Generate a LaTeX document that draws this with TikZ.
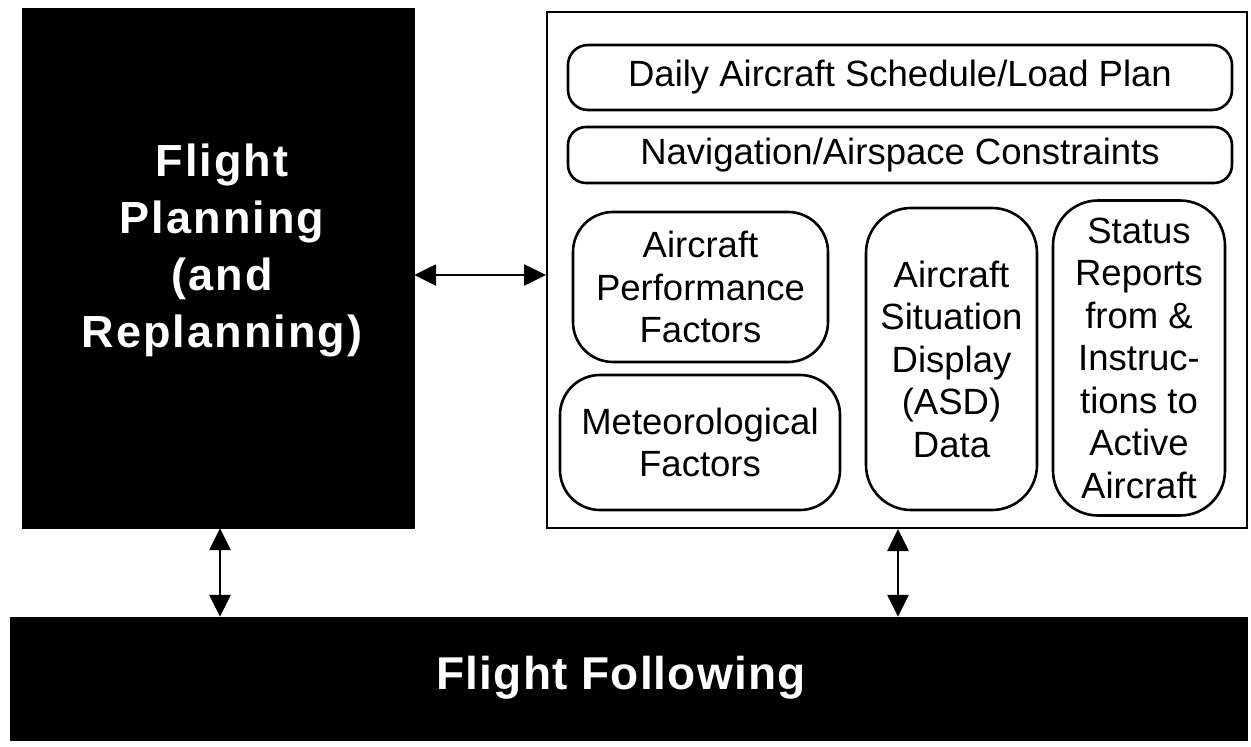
\documentclass[tikz,border=0pt]{standalone}
\usepackage{fontspec}
\setmainfont{Liberation Sans}
\newfontfamily\fpfont[LetterSpace=4.5]{Liberation Sans}
\newfontfamily\fffont[LetterSpace=2.5]{Liberation Sans}
\usetikzlibrary{arrows.meta}
\begin{document}
\begin{tikzpicture}[x=1pt,y=-1pt,
  blackbox/.style={draw=black,fill=black,inner sep=0pt},
  whitetext/.style={text=white,align=center,inner sep=0pt},
  outerbox/.style={draw=black,line width=2pt,inner sep=0pt},
  item/.style={draw=black,line width=2.6pt,inner sep=0pt,align=center,font=\fontsize{36.5}{42.5}\selectfont},
  link/.style={line width=2.6pt,{Triangle[length=22pt,width=21pt]}-{Triangle[length=22pt,width=21pt]}}
]
\useasboundingbox (0,0) rectangle (1251,747);
\node[blackbox,minimum width=392pt,minimum height=520pt] (FP) at (218,268) {};
\node[whitetext,font=\fpfont\fontsize{45}{57}\selectfont\bfseries] (FPt) at (222,250) {Flight\\Planning\\(and\\Replanning)};
\node[outerbox,minimum width=700pt,minimum height=516pt] (OB) at (897,270) {};
\node[item,rounded corners=20pt,minimum width=664pt,minimum height=65pt] (DA) at (900,77.5) {Daily Aircraft Schedule/Load Plan};
\node[item,rounded corners=18pt,minimum width=664pt,minimum height=56pt] (NA) at (900,155) {Navigation/Airspace Constraints};
\node[item,rounded corners=40pt,minimum width=255pt,minimum height=150pt] (AP) at (700.5,287) {Aircraft\\Performance\\Factors};
\node[item,rounded corners=40pt,minimum width=280pt,minimum height=135pt] (MF) at (700,442.5) {Meteorological\\Factors};
\node[item,rounded corners=45pt,minimum width=171pt,minimum height=302pt] (ASD) at (951.5,359) {Aircraft\\Situation\\Display\\(ASD)\\Data};
\node[item,rounded corners=45pt,minimum width=172pt,minimum height=315pt] (SR) at (1139,358) {Status\\Reports\\from \&\\Instruc-\\tions to\\Active\\Aircraft};
\node[blackbox,minimum width=1237pt,minimum height=123pt] (FF) at (628.5,678.5) {};
\node[whitetext,font=\fffont\fontsize{46}{56}\selectfont\bfseries] (FFt) at (621,678) {Flight Following};
\draw[link] ([yshift=-7pt]FP.east) -- ([yshift=-5pt]OB.west);
\draw[link] ([xshift=2pt]FP.south) -- ([xshift=2pt]FP.south |- FF.north);
\draw[link] ([xshift=1pt]OB.south) -- ([xshift=1pt]OB.south |- FF.north);
\end{tikzpicture}
\end{document}
